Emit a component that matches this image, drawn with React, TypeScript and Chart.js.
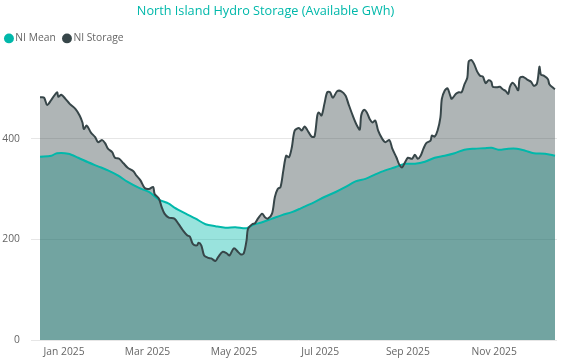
import React, { useEffect, useRef } from "react";
import { Chart, registerables } from "chart.js";

Chart.register(...registerables);

const chartTitle = "North Island Hydro Storage (Available GWh)";
const seriesNames = ["NI Mean", "NI Storage"];

// x values are days counted from 1 Jan 2025
const meanDays = [-17, -9, -5, 3, 10, 17, 24, 31, 38, 45, 53, 60, 67, 74, 78, 86, 93, 100, 107, 114, 121, 129, 133, 140, 147, 154, 161, 167, 170, 177, 184, 192, 199, 206, 213, 220, 227, 234, 241, 248, 255, 262, 269, 276, 283, 290, 297, 302, 307, 314, 320, 326, 332, 340, 347];
const meanValues = [364, 366, 371, 370, 362, 353, 345, 337, 327, 314, 302, 294, 279, 271, 263, 251, 241, 230, 226, 223, 224, 222, 228, 234, 241, 248, 254, 261, 265, 274, 284, 294, 304, 315, 320, 329, 337, 343, 350, 350, 354, 362, 366, 371, 378, 380, 381, 382, 378, 380, 380, 376, 371, 370, 366];

const storageDays = [-17, -16, -14, -12, -9, -5, -4, -2, 1, 4, 8, 11, 13, 14, 16, 19, 22, 24, 27, 29, 31, 34, 36, 39, 42, 45, 49, 51, 54, 57, 60, 63, 64, 67, 69, 71, 74, 78, 81, 84, 87, 89, 91, 94, 95, 97, 99, 102, 104, 107, 109, 112, 115, 117, 120, 123, 125, 127, 129, 130, 133, 135, 137, 140, 142, 144, 147, 149, 151, 153, 155, 157, 159, 161, 163, 166, 168, 170, 173, 175, 177, 179, 180, 182, 184, 186, 188, 190, 193, 196, 199, 201, 204, 207, 209, 210, 212, 214, 216, 218, 220, 222, 225, 227, 230, 232, 235, 237, 239, 241, 243, 246, 248, 250, 252, 254, 256, 259, 260, 262, 264, 266, 267, 269, 271, 273, 274, 277, 279, 281, 283, 285, 286, 288, 290, 292, 294, 296, 298, 300, 302, 303, 306, 308, 310, 312, 314, 315, 317, 319, 321, 322, 324, 326, 328, 330, 332, 334, 335, 336, 337, 339, 342, 343, 346, 347];
const storageValues = [482, 482, 481, 467, 477, 492, 483, 487, 479, 469, 459, 446, 432, 419, 426, 412, 403, 393, 397, 391, 380, 373, 362, 360, 351, 342, 335, 327, 317, 302, 300, 304, 290, 281, 264, 251, 243, 241, 230, 218, 208, 205, 191, 188, 193, 188, 168, 163, 162, 157, 165, 175, 172, 168, 182, 175, 170, 172, 198, 221, 230, 232, 241, 251, 244, 241, 251, 284, 300, 304, 337, 366, 363, 383, 416, 421, 416, 424, 412, 404, 404, 446, 452, 446, 469, 492, 492, 481, 494, 494, 485, 469, 446, 426, 418, 446, 457, 452, 439, 432, 436, 416, 399, 393, 397, 380, 362, 348, 343, 353, 362, 360, 368, 360, 366, 380, 391, 396, 406, 404, 416, 442, 479, 495, 500, 485, 479, 489, 492, 492, 508, 521, 553, 556, 547, 533, 525, 523, 510, 516, 513, 503, 502, 503, 498, 495, 489, 502, 511, 505, 496, 520, 523, 520, 516, 513, 505, 508, 521, 543, 527, 525, 518, 508, 500, 498];

const xTickDays = [0, 59, 120, 181, 243, 304];
const xTickLabels = ["Jan 2025", "Mar 2025", "May 2025", "Jul 2025", "Sep 2025", "Nov 2025"];
const yTickValues = [0, 200, 400];

export default function App() {
  const ref = useRef<HTMLCanvasElement | null>(null);

  useEffect(() => {
    if (!ref.current) return;
    const FONT = "'Segoe UI', 'Open Sans', sans-serif";
    const teal = "#01B8AA";
    const dark = "#374649";
    const labelColor = "#666666";

    const shiftPlugin = {
      id: "shiftBlocks",
      afterLayout(chart: any) {
        const t = chart.titleBlock;
        if (t) {
          const d = 265.5 - (t.left + t.right) / 2;
          t.left += d;
          t.right += d;
        }
        const l = chart.legend;
        if (l) {
          l.left -= 2.3;
          l.right -= 2.3;
          l.top -= 1.5;
          l.bottom -= 1.5;
        }
      },
    };

    const chart = new Chart(ref.current, {
      type: "line",
      data: {
        datasets: [
          {
            label: seriesNames[0],
            data: meanDays.map((d, i) => ({ x: d, y: meanValues[i] })),
            borderColor: teal,
            backgroundColor: "rgba(1,184,170,0.4)",
            fill: "origin",
            borderWidth: 2,
            pointRadius: 0,
            tension: 0.3,
            order: 1,
          },
          {
            label: seriesNames[1],
            data: storageDays.map((d, i) => ({ x: d, y: storageValues[i] })),
            borderColor: dark,
            backgroundColor: "rgba(55,70,73,0.4)",
            fill: "origin",
            borderWidth: 2,
            pointRadius: 0,
            tension: 0.3,
            order: 0,
          },
        ],
      },
      options: {
        responsive: false,
        animation: false,
        layout: { padding: { left: 0, right: 16, top: 0, bottom: 4 } },
        plugins: {
          filler: { drawTime: "beforeDatasetsDraw" },
          tooltip: { enabled: false },
          title: {
            display: true,
            text: chartTitle,
            color: teal,
            font: { family: FONT, size: 12.7, weight: "normal" },
            padding: { top: 3.5, bottom: 6 },
          },
          legend: {
            position: "top",
            align: "start",
            labels: {
              usePointStyle: true,
              pointStyle: "circle",
              boxWidth: 2.5,
              boxHeight: 7,
              color: labelColor,
              font: { family: FONT, size: 10.3 },
              padding: 10,
              sort: (a: any, b: any) => a.datasetIndex - b.datasetIndex,
              generateLabels: (c: any) => {
                const items = (Chart.defaults.plugins.legend.labels as any).generateLabels(c);
                items.forEach((it: any) => {
                  const ds: any = c.data.datasets[it.datasetIndex];
                  it.fillStyle = ds.borderColor;
                  it.strokeStyle = ds.borderColor;
                  it.lineWidth = 0;
                });
                return items;
              },
            },
          },
        },
        scales: {
          x: {
            type: "linear",
            min: -17,
            max: 348.4,
            grid: { display: false, drawTicks: false },
            border: { display: false },
            afterBuildTicks: (s: any) => {
              s.ticks = xTickDays.map((v) => ({ value: v }));
            },
            afterFit: (s: any) => {
              s.height = 18;
            },
            ticks: {
              color: labelColor,
              font: { family: FONT, size: 10.3 },
              padding: 5.5,
              maxRotation: 0,
              autoSkip: false,
              callback: (v: any) => {
                const i = xTickDays.indexOf(Number(v));
                return i >= 0 ? xTickLabels[i] : "";
              },
            },
          },
          y: {
            min: 0,
            max: 566,
            afterBuildTicks: (s: any) => {
              s.ticks = yTickValues.map((v) => ({ value: v }));
            },
            afterFit: (s: any) => {
              s.width = 40;
            },
            grid: { color: "#E6E6E6", tickLength: 9, drawTicks: true },
            border: { display: false },
            ticks: {
              color: labelColor,
              font: { family: FONT, size: 10.3 },
              padding: 11,
            },
          },
        },
      },
      plugins: [shiftPlugin],
    } as any);

    return () => chart.destroy();
  }, []);

  return (
    <canvas
      ref={ref}
      width={573}
      height={362}
      style={{ position: "absolute", left: 0, top: 0 }}
    />
  );
}
